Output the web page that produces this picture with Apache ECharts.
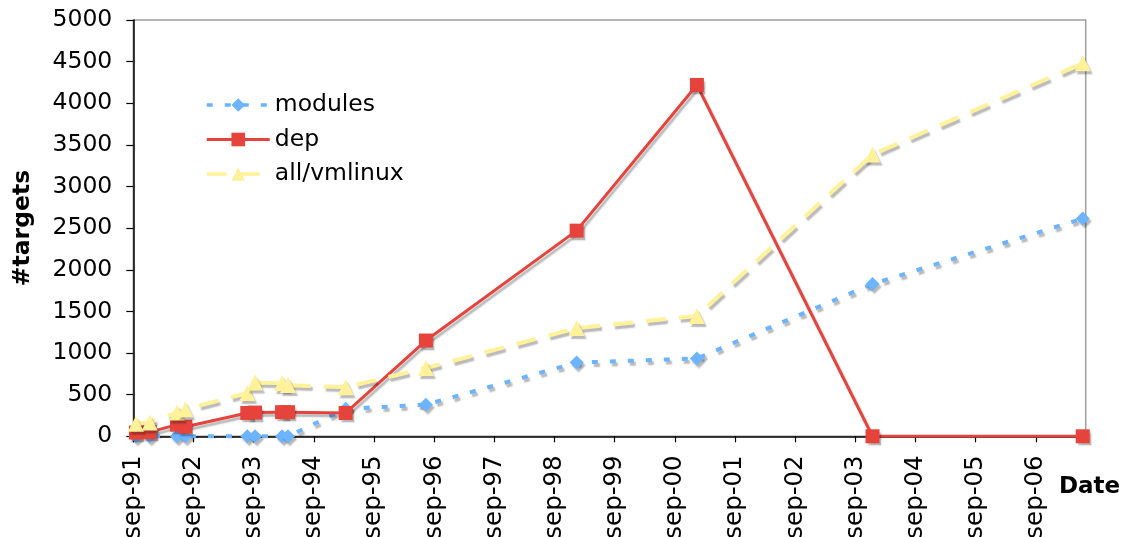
<!DOCTYPE html>
<html>
<head>
<meta charset="utf-8">
<title>#targets</title>
<script src="https://cdn.jsdelivr.net/npm/echarts@6/dist/echarts.min.js"></script>
<style>
  html, body { margin: 0; padding: 0; background: #fff; }
  #chart { width: 1122px; height: 537px; }
</style>
</head>
<body>
<div id="chart"></div>
<script>
// Release dates (ISO) of the sampled kernel versions
const releaseDates = [
  '1991-09-17', '1991-12-10', '1992-05-23', '1992-07-13',
  '1993-07-24', '1993-09-09', '1994-02-20', '1994-03-28',
  '1995-03-13', '1996-07-12', '1999-01-13', '2001-01-12',
  '2003-12-14', '2007-06-12'
];

// Number of make targets per release
const modules = [0, 0, 0, 0, 0, 0, 0, 0, 330, 380, 885, 935, 1830, 2615];
const dep = [45, 50, 140, 115, 280, 285, 290, 290, 280, 1150, 2470, 4220, 0, 0];
const allVmlinux = [150, 165, 285, 325, 520, 645, 640, 615, 590, 820, 1300, 1445, 3385, 4480];

// Yearly tick labels, one per September from 1991
const yearLabels = [
  'sep-91', 'sep-92', 'sep-93', 'sep-94', 'sep-95', 'sep-96', 'sep-97', 'sep-98',
  'sep-99', 'sep-00', 'sep-01', 'sep-02', 'sep-03', 'sep-04', 'sep-05', 'sep-06'
];

// Time axis runs from the first September to the end date, measured in years
const axisStart = '1991-09-01';
const axisEnd = '2007-06-30';

const YEAR_MS = 365.25 * 24 * 3600 * 1000;
const toYears = d => (Date.parse(d) - Date.parse(axisStart)) / YEAR_MS;
const xs = releaseDates.map(toYears);
const pairs = vals => vals.map((v, i) => [xs[i], v]);

const FONT = 'DejaVu Sans, Verdana, sans-serif';
const shadow = {
  shadowColor: 'rgba(0,0,0,0.28)',
  shadowOffsetX: 2,
  shadowOffsetY: 3,
  shadowBlur: 1.5
};

const BLUE = '#6cb4ff';
const RED = '#e5433b';
const YELLOW = '#fff29a';

const chart = echarts.init(document.getElementById('chart'), null, { renderer: 'canvas' });

chart.setOption({
  animation: false,
  backgroundColor: '#ffffff',
  textStyle: { fontFamily: FONT },
  grid: {
    left: 133.3,
    top: 20,
    right: 36.3,
    bottom: 100.7,
    containLabel: false,
    outerBoundsMode: 'none',
    show: true,
    borderColor: '#a0a0a0',
    borderWidth: 1.5,
    backgroundColor: 'transparent'
  },
  legend: {
    orient: 'vertical',
    left: 205,
    top: 93,
    padding: 0,
    itemWidth: 63,
    itemHeight: 17,
    itemGap: 10.5,
    textStyle: { fontFamily: FONT, fontSize: 23.5, color: '#000' },
    data: [
      { name: 'modules', lineStyle: { width: 3.5 } },
      { name: 'dep', lineStyle: { width: 3 } },
      { name: 'all/vmlinux', lineStyle: { width: 3.5 } }
    ]
  },
  xAxis: {
    type: 'value',
    min: 0,
    max: toYears(axisEnd),
    interval: 1,
    axisLine: { show: true, onZero: false, lineStyle: { color: '#000', width: 1.5 } },
    axisTick: {
      show: true,
      length: 6,
      customValues: yearLabels.map((_, i) => i),
      lineStyle: { color: '#000', width: 1.2 }
    },
    axisLabel: {
      rotate: 90,
      margin: 19,
      fontFamily: FONT,
      fontSize: 24.5,
      color: '#000',
      customValues: yearLabels.map((_, i) => i),
      formatter: v => yearLabels[Math.round(v)] || ''
    },
    splitLine: { show: false }
  },
  yAxis: {
    type: 'value',
    min: 0,
    max: 5000,
    interval: 500,
    axisLine: { show: true, lineStyle: { color: '#000', width: 1.5 } },
    axisTick: { show: true, length: 7, lineStyle: { color: '#000', width: 1.2 } },
    axisLabel: {
      margin: 21,
      fontFamily: FONT,
      fontSize: 23.5,
      color: '#000',
      formatter: v => String(v)
    },
    splitLine: { show: false }
  },
  graphic: [
    {
      type: 'text',
      x: 23,
      y: 228,
      rotation: Math.PI / 2,
      style: {
        text: '#targets',
        font: 'bold 23.5px ' + FONT,
        fill: '#000',
        align: 'center',
        verticalAlign: 'middle'
      }
    },
    {
      type: 'text',
      x: 1059,
      y: 487,
      style: {
        text: 'Date',
        font: 'bold 23px ' + FONT,
        fill: '#000',
        align: 'left',
        verticalAlign: 'middle'
      }
    }
  ],
  series: [
    {
      name: 'modules',
      type: 'line',
      data: pairs(modules),
      symbol: 'diamond',
      symbolSize: 14,
      color: BLUE,
      lineStyle: Object.assign({ color: BLUE, width: 4, type: [6, 12], cap: 'butt' }, shadow),
      itemStyle: Object.assign({ color: BLUE }, shadow),
      z: 2
    },
    {
      name: 'dep',
      type: 'line',
      data: pairs(dep),
      symbol: 'rect',
      symbolSize: 14,
      color: RED,
      lineStyle: Object.assign({ color: RED, width: 3 }, shadow),
      itemStyle: Object.assign({ color: RED }, shadow),
      z: 3
    },
    {
      name: 'all/vmlinux',
      type: 'line',
      data: pairs(allVmlinux),
      symbol: 'triangle',
      symbolSize: 16,
      color: YELLOW,
      lineStyle: Object.assign({ color: YELLOW, width: 4, type: [20, 13], cap: 'butt' }, shadow),
      itemStyle: Object.assign({ color: YELLOW }, shadow),
      z: 4
    }
  ]
});
</script>
</body>
</html>
